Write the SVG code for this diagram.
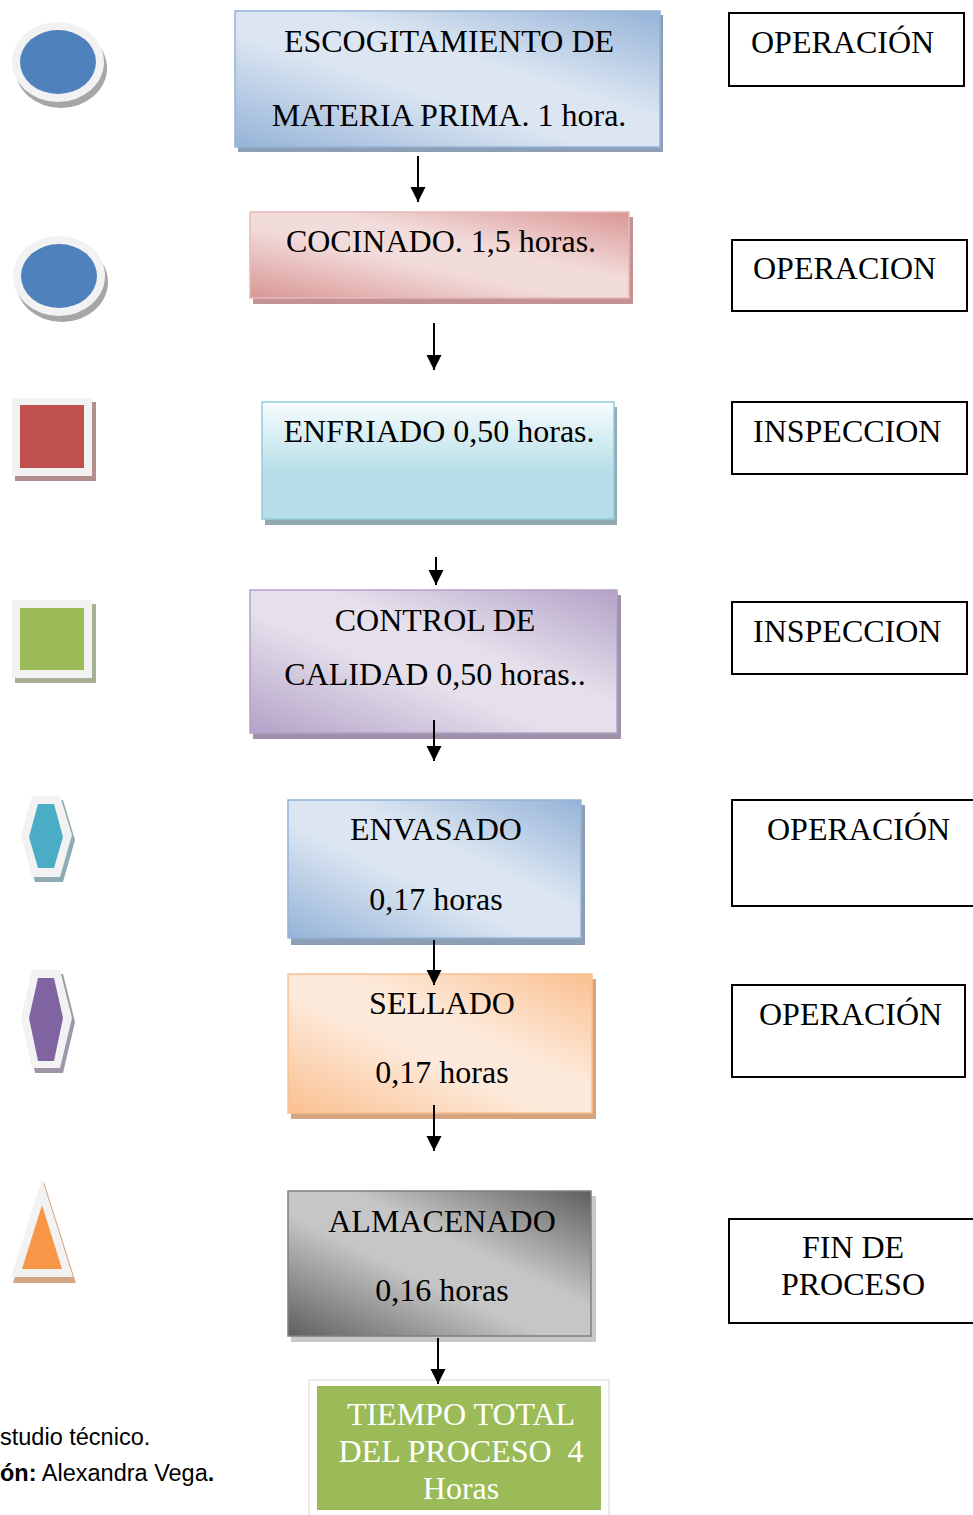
<svg xmlns="http://www.w3.org/2000/svg" width="973" height="1515" viewBox="0 0 973 1515">
<style>
.t{font-family:"Liberation Serif","Times New Roman",serif;font-size:32px;fill:#000}
.c{text-anchor:middle}
.w{fill:#fff}
.lbl{fill:#fff;stroke:#000;stroke-width:2}
.cap{font-family:"Liberation Sans",Arial,sans-serif;font-size:23.5px;fill:#000}
.conn line{stroke:#000;stroke-width:2;marker-end:url(#ah)}
.ring{fill:#f2f2f2}
</style>
<defs>
<marker id="ah" viewBox="0 0 10 10" refX="10" refY="5" markerUnits="userSpaceOnUse" markerWidth="15" markerHeight="16" orient="auto">
<path d="M0,0 L10,5 L0,10 z" fill="#000"/>
</marker>
<linearGradient id="gBlue" x1="0" y1="1" x2="1" y2="0">
<stop offset="0" stop-color="#95b3d7"/><stop offset="0.42" stop-color="#dce6f2"/><stop offset="0.6" stop-color="#dce6f2"/><stop offset="1" stop-color="#95b3d7"/>
</linearGradient>
<linearGradient id="gRed" x1="0" y1="1" x2="1" y2="0">
<stop offset="0" stop-color="#d99694"/><stop offset="0.42" stop-color="#f2dcdb"/><stop offset="0.6" stop-color="#f2dcdb"/><stop offset="1" stop-color="#d99694"/>
</linearGradient>
<linearGradient id="gCyan" x1="0" y1="0" x2="0" y2="1">
<stop offset="0" stop-color="#f7fcfd"/><stop offset="0.6" stop-color="#b7dee8"/><stop offset="1" stop-color="#b7dee8"/>
</linearGradient>
<linearGradient id="gPurple" x1="0" y1="1" x2="1" y2="0">
<stop offset="0" stop-color="#b3a2c7"/><stop offset="0.42" stop-color="#e5e0ec"/><stop offset="0.6" stop-color="#e5e0ec"/><stop offset="1" stop-color="#b3a2c7"/>
</linearGradient>
<linearGradient id="gOrange" x1="0" y1="1" x2="1" y2="0">
<stop offset="0" stop-color="#fac090"/><stop offset="0.42" stop-color="#fde9d9"/><stop offset="0.6" stop-color="#fde9d9"/><stop offset="1" stop-color="#fac090"/>
</linearGradient>
<linearGradient id="gGray" x1="0" y1="1" x2="1" y2="0">
<stop offset="0" stop-color="#5f5f5f"/><stop offset="0.42" stop-color="#c6c6c6"/><stop offset="0.6" stop-color="#c6c6c6"/><stop offset="1" stop-color="#5f5f5f"/>
</linearGradient>
</defs>
<rect width="973" height="1515" fill="#fff"/>

<!-- left symbols -->
<g id="sym-circle-1">
<ellipse cx="61" cy="68" rx="46" ry="40" fill="#a6a6a6"/>
<ellipse cx="58" cy="62" rx="46" ry="40" class="ring"/>
<ellipse cx="58" cy="62" rx="38" ry="32" fill="#4f81bd"/>
</g>
<g id="sym-circle-2">
<ellipse cx="62" cy="282" rx="46" ry="40" fill="#a6a6a6"/>
<ellipse cx="59" cy="276" rx="46" ry="40" class="ring"/>
<ellipse cx="59" cy="276" rx="38" ry="32" fill="#4f81bd"/>
</g>
<g id="sym-square-red">
<rect x="15" y="402" width="81" height="79" fill="#b38e8e"/>
<rect x="12" y="398" width="80" height="78" class="ring"/>
<rect x="20" y="405" width="64" height="63" fill="#c0504d"/>
</g>
<g id="sym-square-green">
<rect x="15" y="604" width="81" height="79" fill="#a5b095"/>
<rect x="12" y="600" width="80" height="78" class="ring"/>
<rect x="20" y="608" width="64" height="62" fill="#9bbb59"/>
</g>
<g id="sym-hex-cyan">
<polygon points="35,800 63,800 75,840 63,882 35,882 24,840" fill="#8eaab3"/>
<polygon points="32,796 60,796 72,835 60,877 32,877 21,835" class="ring"/>
<polygon points="38,804 54,804 63,837 54,868 38,868 29,837" fill="#4bacc6"/>
</g>
<g id="sym-hex-purple">
<polygon points="35,974 63,974 75,1022 63,1073 35,1073 24,1022" fill="#9f96a8"/>
<polygon points="32,970 60,970 72,1018 60,1068 32,1068 21,1018" class="ring"/>
<polygon points="38,978 54,978 63,1018 54,1061 38,1061 29,1018" fill="#8064a2"/>
</g>
<g id="sym-triangle-orange">
<polygon points="44,1182 76,1283 13,1283" fill="#d4a584"/>
<polygon points="42,1179 73,1277 11,1277" class="ring"/>
<polygon points="42,1205 62,1269 22,1269" fill="#f79646"/>
</g>

<!-- process boxes -->
<g id="step-escogitamiento">
<rect x="238" y="15" width="425" height="137" fill="#8c9fb5"/>
<rect x="235" y="11" width="425" height="136" fill="url(#gBlue)" stroke="#95b3d7" stroke-width="1.5"/>
<text class="t c" x="449" y="52">ESCOGITAMIENTO DE</text>
<text class="t c" x="449" y="126">MATERIA PRIMA. 1 hora.</text>
</g>
<g id="step-cocinado">
<rect x="253" y="217" width="380" height="87" fill="#c39293"/>
<rect x="250" y="212" width="379" height="86" fill="url(#gRed)" stroke="#e6b9b8" stroke-width="1.5"/>
<text class="t c" x="441" y="252">COCINADO. 1,5 horas.</text>
</g>
<g id="step-enfriado">
<rect x="265" y="407" width="352" height="118" fill="#93a9b1"/>
<rect x="262" y="402" width="352" height="117" fill="url(#gCyan)" stroke="#92cddc" stroke-width="1.5"/>
<text class="t c" x="439" y="442">ENFRIADO 0,50 horas.</text>
</g>
<g id="step-control">
<rect x="253" y="595" width="368" height="144" fill="#9d92a9"/>
<rect x="250" y="590" width="367" height="143" fill="url(#gPurple)" stroke="#b2a1c7" stroke-width="1.5"/>
<text class="t c" x="435" y="631">CONTROL DE</text>
<text class="t c" x="435" y="685">CALIDAD 0,50 horas..</text>
</g>
<g id="step-envasado">
<rect x="291" y="805" width="294" height="140" fill="#8c9fb5"/>
<rect x="288" y="800" width="293" height="138" fill="url(#gBlue)" stroke="#95b3d7" stroke-width="1.5"/>
<text class="t c" x="436" y="840">ENVASADO</text>
<text class="t c" x="436" y="910">0,17 horas</text>
</g>
<g id="step-sellado">
<rect x="291" y="979" width="305" height="140" fill="#d4a580"/>
<rect x="288" y="974" width="304" height="139" fill="url(#gOrange)" stroke="#fac090" stroke-width="1.5"/>
<text class="t c" x="442" y="1014">SELLADO</text>
<text class="t c" x="442" y="1083">0,17 horas</text>
</g>
<g id="step-almacenado">
<rect x="291" y="1196" width="305" height="146" fill="#c8c8c8"/>
<rect x="288" y="1191" width="303" height="145" fill="url(#gGray)" stroke="#7f7f7f" stroke-width="1.5"/>
<text class="t c" x="442" y="1232">ALMACENADO</text>
<text class="t c" x="442" y="1301">0,16 horas</text>
</g>
<g id="step-total">
<rect x="309" y="1380" width="300" height="140" fill="#fff" stroke="#e3e3e3" stroke-width="1.5"/>
<rect x="317" y="1386" width="284" height="124" fill="#9bbb59"/>
<text class="t c w" x="461" y="1425">TIEMPO TOTAL</text>
<text class="t c w" x="461" y="1462" xml:space="preserve">DEL PROCESO  4</text>
<text class="t c w" x="461" y="1499">Horas</text>
</g>

<!-- right labels -->
<g id="label-1">
<rect x="729" y="13" width="235" height="73" class="lbl"/>
<text class="t" x="751" y="53">OPERACIÓN</text>
</g>
<g id="label-2">
<rect x="732" y="240" width="235" height="71" class="lbl"/>
<text class="t" x="753" y="279">OPERACION</text>
</g>
<g id="label-3">
<rect x="732" y="402" width="235" height="72" class="lbl"/>
<text class="t" x="753" y="442">INSPECCION</text>
</g>
<g id="label-4">
<rect x="732" y="602" width="235" height="72" class="lbl"/>
<text class="t" x="753" y="642">INSPECCION</text>
</g>
<g id="label-5">
<rect x="732" y="800" width="250" height="106" class="lbl"/>
<text class="t" x="767" y="840">OPERACIÓN</text>
</g>
<g id="label-6">
<rect x="732" y="985" width="233" height="92" class="lbl"/>
<text class="t" x="759" y="1025">OPERACIÓN</text>
</g>
<g id="label-7">
<rect x="729" y="1219" width="254" height="104" class="lbl"/>
<text class="t c" x="853" y="1258">FIN DE</text>
<text class="t c" x="853" y="1295">PROCESO</text>
</g>

<!-- connectors -->
<g id="connectors" class="conn">
<line x1="418" y1="156" x2="418" y2="202"/>
<line x1="434" y1="323" x2="434" y2="370"/>
<line x1="436" y1="557" x2="436" y2="585"/>
<line x1="434" y1="720" x2="434" y2="761"/>
<line x1="434" y1="940" x2="434" y2="985"/>
<line x1="434" y1="1105" x2="434" y2="1151"/>
<line x1="438" y1="1338" x2="438" y2="1384"/>
</g>

<!-- caption -->
<text class="cap" x="0" y="1445">studio técnico.</text>
<text class="cap" x="0" y="1481"><tspan font-weight="bold">ón:</tspan> Alexandra Vega<tspan font-weight="bold">.</tspan></text>
</svg>
